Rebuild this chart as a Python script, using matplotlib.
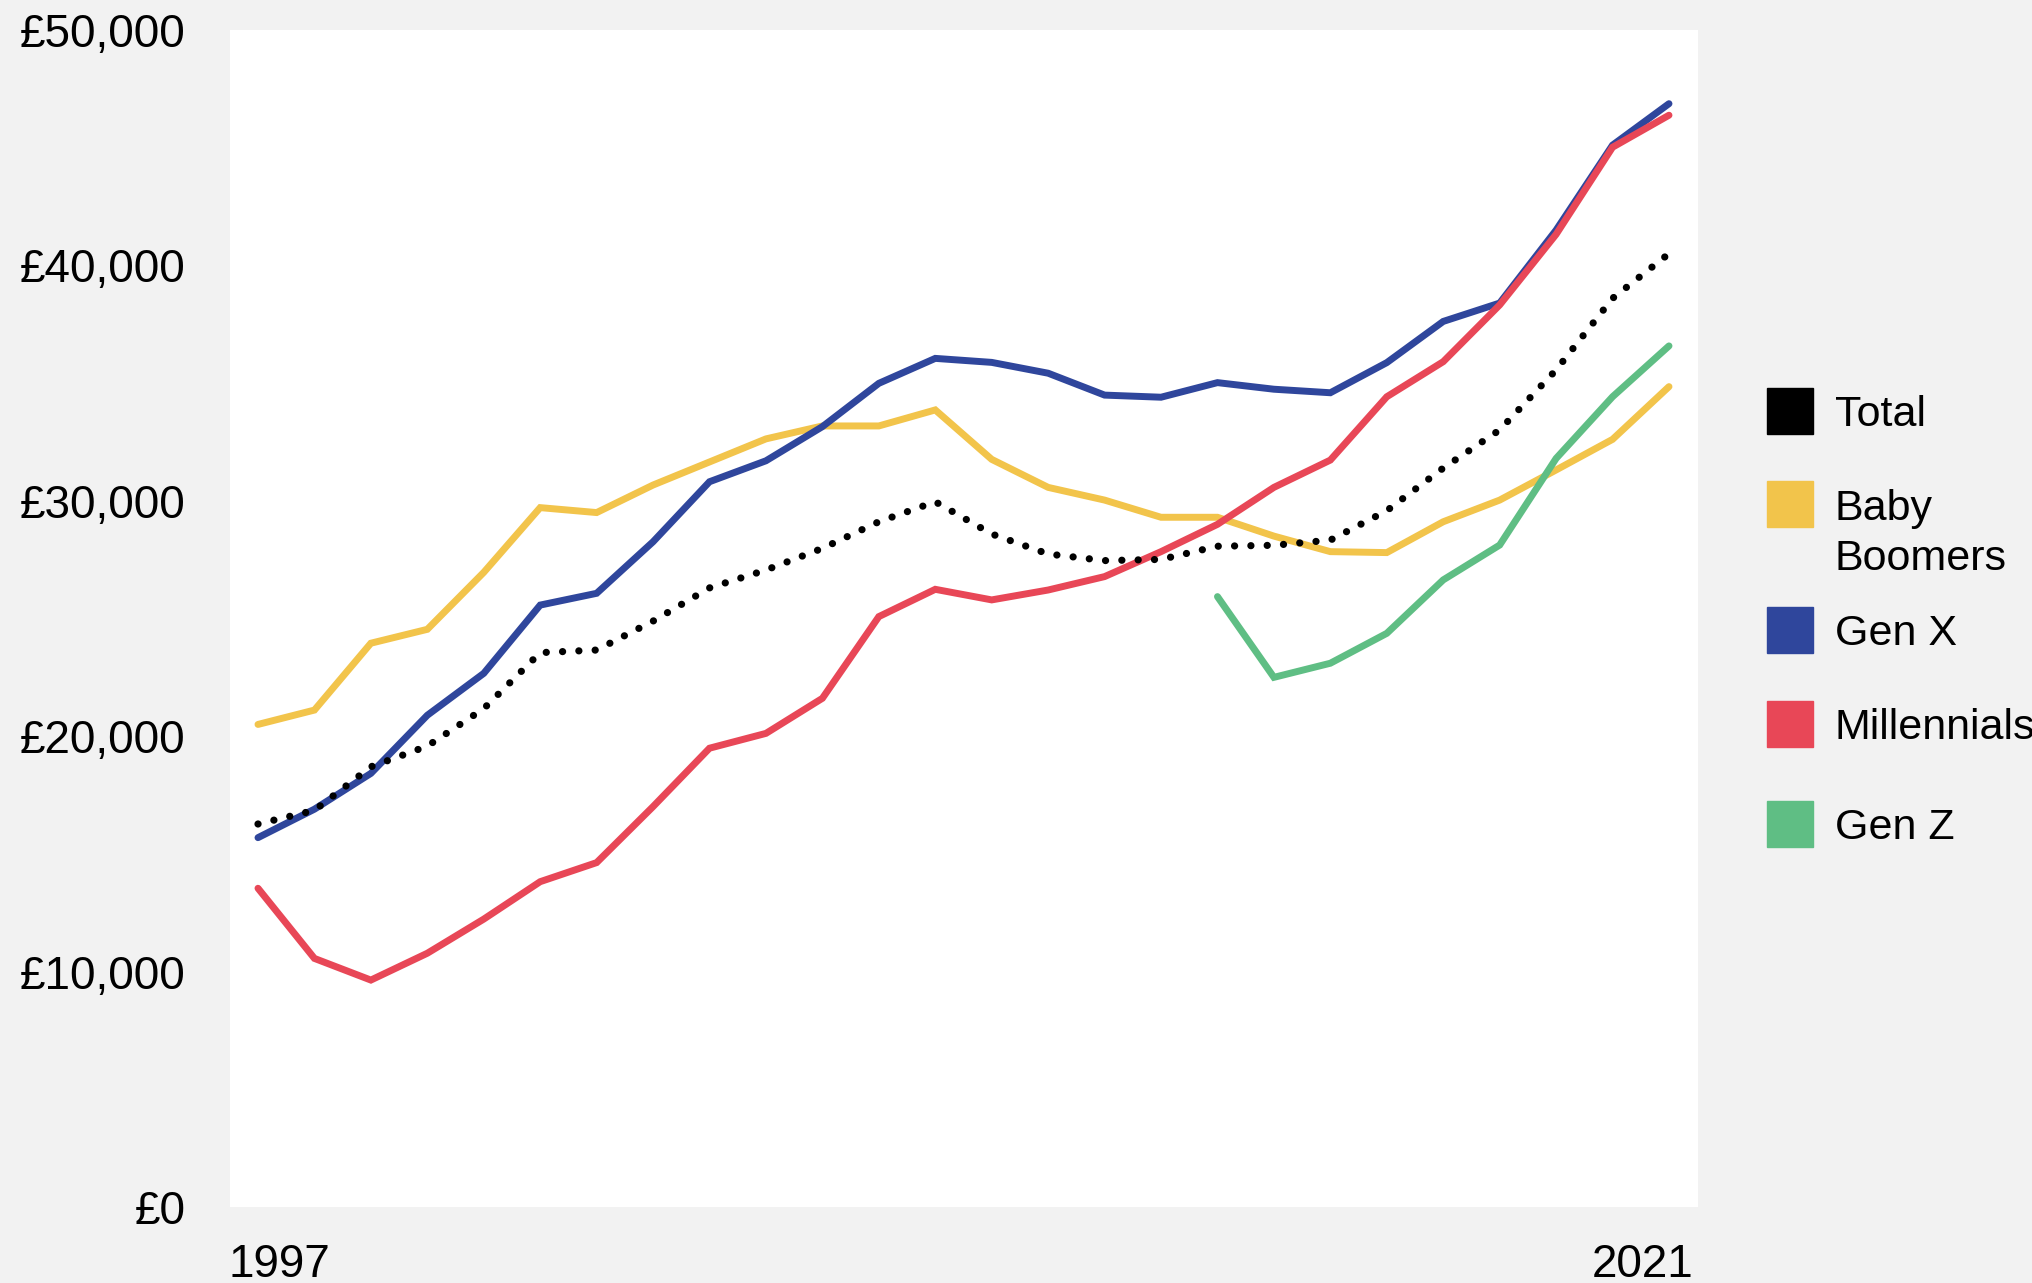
import numpy as np
import matplotlib
matplotlib.use("Agg")
import matplotlib.pyplot as plt
from matplotlib.patches import Rectangle
from matplotlib.ticker import FuncFormatter

# data: one value per period, 1997 .. latest
total = [16270, 16850, 18700, 19580, 21170, 23550, 23660, 24890, 26300, 27060,
         27980, 29110, 29960, 28590, 27740, 27460, 27510, 28070, 28110, 28330,
         29580, 31390, 33010, 35560, 38600, 40500]
baby_boomers = [20500, 21110, 23950, 24540, 26960, 29710, 29500, 30670, 31650, 32630,
                33180, 33180, 33860, 31760, 30570, 30030, 29300, 29300, 28500, 27840,
                27800, 29110, 30030, 31310, 32610, 34850]
gen_x = [15690, 16900, 18420, 20890, 22670, 25570, 26070, 28260, 30810, 31700,
         33150, 34990, 36050, 35880, 35420, 34490, 34400, 35020, 34740, 34590,
         35870, 37620, 38400, 41500, 45110, 46870]
millennials = [13540, 10560, 9640, 10780, 12230, 13820, 14630, 17010, 19490, 20120,
               21610, 25080, 26240, 25790, 26210, 26780, 27840, 29000, 30570, 31730,
               34420, 35910, 38320, 41320, 45020, 46380]
gen_z = [25930, 22500, 23100, 24370, 26640, 28120, 31800, 34420, 36580]

first_label = "1997"
last_label = "2021"
ticks = [0, 10000, 20000, 30000, 40000, 50000]

names = ["Total", "Baby Boomers", "Gen X", "Millennials", "Gen Z"]
colors = ["#000000", "#F2C44B", "#2F469C", "#E84757", "#5FBE84"]

W, H = 2032, 1283
bg = "#F2F2F2"
plt.rcParams["font.family"] = ["Liberation Sans", "DejaVu Sans"]

fig = plt.figure(figsize=(W / 100, H / 100), dpi=100, facecolor=bg)
ax = fig.add_axes([230 / W, (H - 1207) / H, (1698 - 230) / W, (1207 - 30) / H])
ax.set_facecolor("white")

n = len(total)
x = np.arange(n)
lw = 5
ax.plot(x, baby_boomers, color=colors[1], lw=lw, solid_capstyle="round", solid_joinstyle="miter")
ax.plot(x, gen_x, color=colors[2], lw=lw, solid_capstyle="round", solid_joinstyle="miter")
ax.plot(x, millennials, color=colors[3], lw=lw, solid_capstyle="round", solid_joinstyle="miter")
ax.plot(x[n - len(gen_z):], gen_z, color=colors[4], lw=lw, solid_capstyle="round", solid_joinstyle="miter")
ax.plot(x, total, color=colors[0], lw=5.2, linestyle=(0, (0.01, 2.25)), dash_capstyle="round")

ax.set_xlim(-0.496, n - 1 + 0.514)
ax.set_ylim(0, 50000)
for s in ax.spines.values():
    s.set_visible(False)
ax.set_xticks([])
ax.set_yticks(ticks)
ax.yaxis.set_major_formatter(FuncFormatter(lambda v, p: "£{:,.0f}".format(v)))
ax.tick_params(axis="y", length=0, pad=32, labelsize=33)

# x end labels
fig.text(229 / W, 1 - 1277 / H, first_label, ha="left", va="baseline", fontsize=33)
fig.text(1694 / W, 1 - 1277 / H, last_label, ha="right", va="baseline", fontsize=33)

# legend
centers = [411, 504, 630, 724, 824]
for name, c, cy in zip(names, colors, centers):
    fig.patches.append(Rectangle((1767 / W, 1 - (cy + 23) / H), 46 / W, 46 / H,
                                 transform=fig.transFigure, color=c))
    if name == "Baby Boomers":
        fig.text(1835 / W, 1 - 520 / H, "Baby", ha="left", va="baseline", fontsize=31)
        fig.text(1835 / W, 1 - 570 / H, "Boomers", ha="left", va="baseline", fontsize=31)
    else:
        fig.text(1835 / W, 1 - (cy + 15) / H, name, ha="left", va="baseline", fontsize=31)

fig.savefig("out.png", dpi=100, facecolor=bg)
